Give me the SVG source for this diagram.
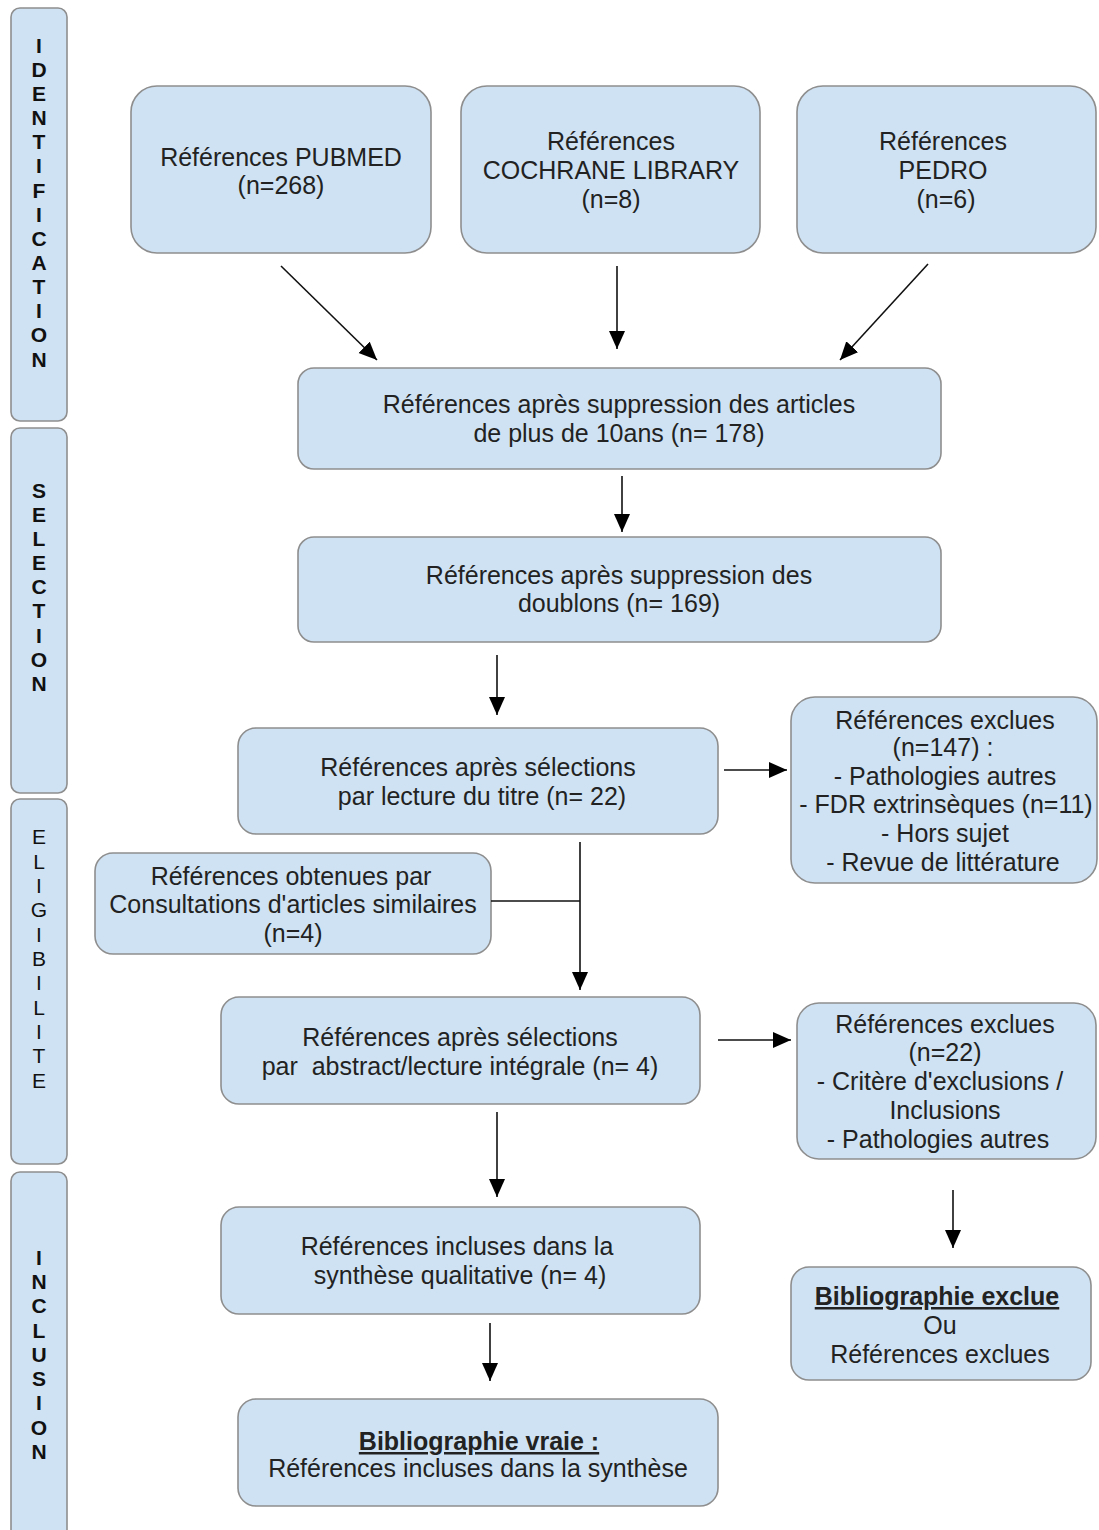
<svg xmlns="http://www.w3.org/2000/svg" width="1099" height="1530" viewBox="0 0 1099 1530">
<style>
.box{fill:#cfe2f3;stroke:#8e8e8e;stroke-width:1.6}
.t{font-family:"Liberation Sans",Arial,sans-serif;font-size:25px;fill:#222;text-anchor:middle}
.b{font-weight:bold;text-decoration:underline}
.side{font-family:"Liberation Sans",Arial,sans-serif;font-size:21px;font-weight:bold;fill:#111;text-anchor:middle}
.side2{font-family:"Liberation Sans",Arial,sans-serif;font-size:21px;fill:#111;text-anchor:middle}
.c{stroke:#111;stroke-width:1.6;fill:none}
</style>
<defs>
<marker id="ah" markerUnits="userSpaceOnUse" markerWidth="20" markerHeight="18" refX="18" refY="8" orient="auto">
<path d="M0,0 L18,8 L0,16 z" fill="#000"/>
</marker>
</defs>
<rect width="1099" height="1530" fill="#fff"/>

<g id="side-identification">
<rect class="box" x="11" y="8" width="56" height="413" rx="9"/>
<text class="side"><tspan x="39" y="53">I</tspan><tspan x="39" y="77">D</tspan><tspan x="39" y="101">E</tspan><tspan x="39" y="125">N</tspan><tspan x="39" y="149">T</tspan><tspan x="39" y="173">I</tspan><tspan x="39" y="198">F</tspan><tspan x="39" y="222">I</tspan><tspan x="39" y="246">C</tspan><tspan x="39" y="270">A</tspan><tspan x="39" y="294">T</tspan><tspan x="39" y="318">I</tspan><tspan x="39" y="342">O</tspan><tspan x="39" y="367">N</tspan></text>
</g>
<g id="side-selection">
<rect class="box" x="11" y="428" width="56" height="365" rx="9"/>
<text class="side"><tspan x="39" y="498">S</tspan><tspan x="39" y="522">E</tspan><tspan x="39" y="546">L</tspan><tspan x="39" y="570">E</tspan><tspan x="39" y="594">C</tspan><tspan x="39" y="618">T</tspan><tspan x="39" y="643">I</tspan><tspan x="39" y="667">O</tspan><tspan x="39" y="691">N</tspan></text>
</g>
<g id="side-eligibilite">
<rect class="box" x="11" y="799" width="56" height="365" rx="9"/>
<text class="side2"><tspan x="39" y="844">E</tspan><tspan x="39" y="869">L</tspan><tspan x="39" y="893">I</tspan><tspan x="39" y="917">G</tspan><tspan x="39" y="942">I</tspan><tspan x="39" y="966">B</tspan><tspan x="39" y="990">I</tspan><tspan x="39" y="1015">L</tspan><tspan x="39" y="1039">I</tspan><tspan x="39" y="1063">T</tspan><tspan x="39" y="1088">E</tspan></text>
</g>
<g id="side-inclusion">
<rect class="box" x="11" y="1172" width="56" height="380" rx="9"/>
<text class="side"><tspan x="39" y="1265">I</tspan><tspan x="39" y="1289">N</tspan><tspan x="39" y="1313">C</tspan><tspan x="39" y="1338">L</tspan><tspan x="39" y="1362">U</tspan><tspan x="39" y="1386">S</tspan><tspan x="39" y="1410">I</tspan><tspan x="39" y="1435">O</tspan><tspan x="39" y="1459">N</tspan></text>
</g>

<g id="n-pubmed">
<rect class="box" x="131" y="86" width="300" height="167" rx="26"/>
<text class="t"><tspan x="281" y="166">Références PUBMED</tspan><tspan x="281" y="194">(n=268)</tspan></text>
</g>
<g id="n-cochrane">
<rect class="box" x="461" y="86" width="299" height="167" rx="26"/>
<text class="t"><tspan x="611" y="150">Références</tspan><tspan x="611" y="179">COCHRANE LIBRARY</tspan><tspan x="611" y="208">(n=8)</tspan></text>
</g>
<g id="n-pedro">
<rect class="box" x="797" y="86" width="299" height="167" rx="26"/>
<text class="t"><tspan x="943" y="150">Références</tspan><tspan x="943" y="179">PEDRO</tspan><tspan x="946" y="208">(n=6)</tspan></text>
</g>
<g id="n-10ans">
<rect class="box" x="298" y="368" width="643" height="101" rx="16"/>
<text class="t"><tspan x="619" y="413">Références après suppression des articles</tspan><tspan x="619" y="442">de plus de 10ans (n= 178)</tspan></text>
</g>
<g id="n-doublons">
<rect class="box" x="298" y="537" width="643" height="105" rx="16"/>
<text class="t"><tspan x="619" y="584">Références après suppression des</tspan><tspan x="619" y="612">doublons (n= 169)</tspan></text>
</g>
<g id="n-titre">
<rect class="box" x="238" y="728" width="480" height="106" rx="18"/>
<text class="t"><tspan x="478" y="776">Références après sélections</tspan><tspan x="482" y="805">par lecture du titre (n= 22)</tspan></text>
</g>
<g id="n-exclues147">
<rect class="box" x="791" y="697" width="306" height="186" rx="24"/>
<text class="t"><tspan x="945" y="729">Références exclues</tspan><tspan x="943" y="756">(n=147) :</tspan><tspan x="945" y="785">- Pathologies autres</tspan><tspan x="946" y="813">- FDR extrinsèques (n=11)</tspan><tspan x="945" y="842">- Hors sujet</tspan><tspan x="943" y="871">- Revue de littérature</tspan></text>
</g>
<g id="n-similaires">
<rect class="box" x="95" y="853" width="396" height="101" rx="18"/>
<text class="t"><tspan x="291" y="885">Références obtenues par</tspan><tspan x="293" y="913">Consultations d'articles similaires</tspan><tspan x="293" y="942">(n=4)</tspan></text>
</g>
<g id="n-abstract">
<rect class="box" x="221" y="997" width="479" height="107" rx="18"/>
<text class="t" xml:space="preserve"><tspan x="460" y="1046">Références après sélections</tspan><tspan x="460" y="1075">par  abstract/lecture intégrale (n= 4)</tspan></text>
</g>
<g id="n-exclues22">
<rect class="box" x="797" y="1003" width="299" height="156" rx="22"/>
<text class="t"><tspan x="945" y="1033">Références exclues</tspan><tspan x="945" y="1061">(n=22)</tspan><tspan x="940" y="1090">- Critère d'exclusions /</tspan><tspan x="945" y="1119">Inclusions</tspan><tspan x="938" y="1148">- Pathologies autres</tspan></text>
</g>
<g id="n-qualitative">
<rect class="box" x="221" y="1207" width="479" height="107" rx="18"/>
<text class="t"><tspan x="457" y="1255">Références incluses dans la</tspan><tspan x="460" y="1284">synthèse qualitative (n= 4)</tspan></text>
</g>
<g id="n-biblio-exclue">
<rect class="box" x="791" y="1267" width="300" height="113" rx="18"/>
<text class="t"><tspan class="b" x="937" y="1305">Bibliographie exclue</tspan><tspan x="940" y="1334">Ou</tspan><tspan x="940" y="1363">Références exclues</tspan></text>
</g>
<g id="n-biblio-vraie">
<rect class="box" x="238" y="1399" width="480" height="107" rx="18"/>
<text class="t"><tspan class="b" x="479" y="1450">Bibliographie vraie :</tspan><tspan x="478" y="1477">Références incluses dans la synthèse</tspan></text>
</g>

<g id="connectors">
<line class="c" x1="281" y1="266" x2="377" y2="360" marker-end="url(#ah)"/>
<line class="c" x1="617" y1="266" x2="617" y2="349" marker-end="url(#ah)"/>
<line class="c" x1="928" y1="264" x2="840" y2="360" marker-end="url(#ah)"/>
<line class="c" x1="622" y1="476" x2="622" y2="532" marker-end="url(#ah)"/>
<line class="c" x1="497" y1="655" x2="497" y2="715" marker-end="url(#ah)"/>
<line class="c" x1="724" y1="770" x2="787" y2="770" marker-end="url(#ah)"/>
<line class="c" x1="580" y1="842" x2="580" y2="990" marker-end="url(#ah)"/>
<line class="c" x1="491" y1="901" x2="580" y2="901"/>
<line class="c" x1="718" y1="1040" x2="791" y2="1040" marker-end="url(#ah)"/>
<line class="c" x1="497" y1="1112" x2="497" y2="1197" marker-end="url(#ah)"/>
<line class="c" x1="953" y1="1190" x2="953" y2="1248" marker-end="url(#ah)"/>
<line class="c" x1="490" y1="1323" x2="490" y2="1381" marker-end="url(#ah)"/>
</g>
</svg>
